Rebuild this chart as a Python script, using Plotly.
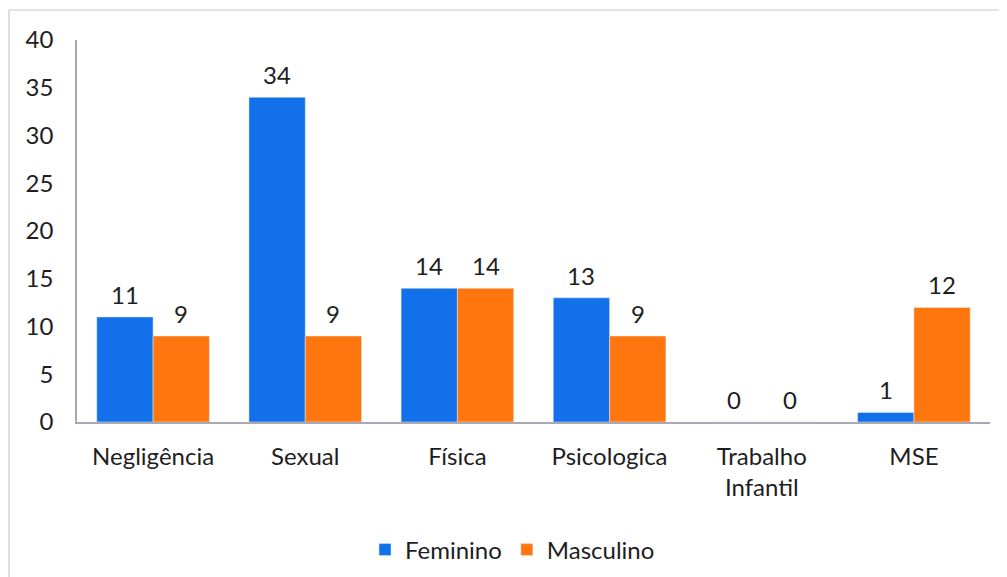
import plotly.graph_objects as go

categories = ["Negligência", "Sexual", "Física", "Psicologica", "Trabalho<br>Infantil", "MSE"]
feminino = [11, 34, 14, 13, 0, 1]
masculino = [9, 9, 14, 9, 0, 12]
y_ticks = [0, 5, 10, 15, 20, 25, 30, 35, 40]

BLUE = "#1170EA"
ORANGE = "#FF760E"
TXT = "#1e1e1e"
FONT = "Lato"
FS = 24

# page has an 8px body margin; figure sized to fit inside the 1007x577 window
W, H = 999, 569
ML, MR, MT, MB = 69, 17, 32, 155
BARGAP = 0.26
plot_w = W - ML - MR
plot_h = H - MT - MB
bar_px = plot_w / len(categories) * (1 - BARGAP) / 2

fig = go.Figure()
fig.add_trace(go.Bar(name="Feminino", x=categories, y=feminino, marker_color=BLUE))
fig.add_trace(go.Bar(name="Masculino", x=categories, y=masculino, marker_color=ORANGE))

# value labels above each bar
for series, shift in ((feminino, -bar_px / 2), (masculino, bar_px / 2)):
    for cat, v in zip(categories, series):
        fig.add_annotation(x=cat, y=v, xref="x", yref="y", text=str(v),
                           showarrow=False, xshift=shift, yshift=6, yanchor="bottom",
                           font=dict(family=FONT, size=FS, color=TXT))

fig.update_layout(
    width=W, height=H,
    margin=dict(l=ML, r=MR, t=MT, b=MB, autoexpand=False),
    paper_bgcolor="white", plot_bgcolor="white",
    barmode="group", bargap=BARGAP, bargroupgap=0,
    font=dict(family=FONT, size=FS, color=TXT),
    showlegend=True,
    legend=dict(orientation="h", x=0.477, xanchor="center",
                yref="container", y=1 - (550 - 8) / H, yanchor="middle",
                font=dict(family=FONT, size=FS, color=TXT), itemwidth=30,
                traceorder="normal"),
)
fig.update_xaxes(
    automargin=False,
    showline=True, linecolor="#a9a9b3", linewidth=1.5, showgrid=False,
    ticks="", tickfont=dict(family=FONT, size=FS, color=TXT), ticklabelstandoff=12,
)
fig.update_yaxes(
    automargin=False,
    range=[0, 40], tickvals=y_ticks, showline=True, linecolor="#a9a9b3", linewidth=1.5,
    showgrid=False, zeroline=False, ticks="",
    tickfont=dict(family=FONT, size=FS, color=TXT), ticklabelstandoff=17,
)
# outer chart border (page-pixel positions converted to paper fractions)
fig.add_shape(type="rect", xref="paper", yref="paper",
              x0=(9 - 77) / plot_w, x1=(1004 - 77) / plot_w,
              y0=-0.6, y1=(422 - 10) / plot_h,
              line=dict(color="#c9c9d0", width=1.2), fillcolor="rgba(0,0,0,0)", layer="below")

fig.write_html("out.html")
